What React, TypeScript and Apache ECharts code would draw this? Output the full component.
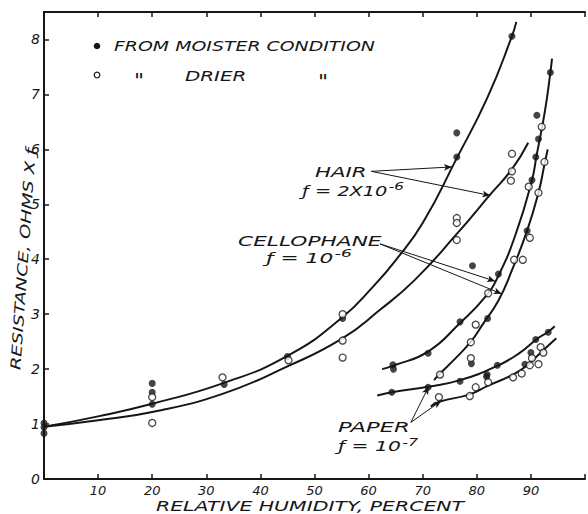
import React, { useEffect, useRef } from "react";
import * as echarts from "echarts";

// ---------- data (relative humidity %, resistance ohms x f) ----------
const xTicks = [10, 20, 30, 40, 50, 60, 70, 80, 90];
const yTicks = [0, 1, 2, 3, 4, 5, 6, 7, 8];

const hairMoisterCurve = [
  [0, 0.95], [10, 1.14], [20, 1.37], [33, 1.74], [45, 2.24], [55, 2.93],
  [61, 3.52], [65, 3.98], [70, 4.66], [76.3, 5.84], [82, 6.95], [86.5, 8.06], [87.3, 8.32],
];
const hairDrierCurve = [
  [0, 0.95], [10, 1.07], [20, 1.22], [33, 1.55], [45, 2.05], [55, 2.55],
  [62, 3.07], [68.5, 3.62], [76.3, 4.46], [82.5, 5.18], [86.5, 5.64], [89.5, 6.12],
];
const cellMoisterCurve = [
  [62.5, 2.0], [64.5, 2.06], [71, 2.32], [76.9, 2.84], [81.6, 3.32], [84, 3.7],
  [87.2, 4.46], [90.2, 5.44], [91, 5.86], [92.6, 6.7], [93.6, 7.4], [93.9, 7.65],
];
const cellDrierCurve = [
  [72.1, 1.8], [73, 1.9], [76, 2.19], [78.9, 2.5], [81, 2.8], [84, 3.25],
  [86.5, 3.8], [89.3, 4.52], [91.4, 5.21], [92.5, 5.72], [93.1, 6.0],
];
const paperMoisterCurve = [
  [61.6, 1.52], [64.3, 1.58], [71, 1.68], [76.9, 1.8], [83.8, 2.06],
  [88, 2.3], [91, 2.54], [93.2, 2.68], [94.4, 2.78],
];
const paperDrierCurve = [
  [71.5, 1.32], [73.2, 1.41], [78.7, 1.54], [82.1, 1.7], [86.7, 1.9],
  [89.5, 2.08], [91.5, 2.27], [94.7, 2.56],
];

const moisterPoints = [
  [0, 1.02], [0, 0.94], [0, 0.83], [20, 1.74], [20, 1.58], [20, 1.36], [33.3, 1.72],
  [45, 2.23], [55.2, 2.92], [76.3, 6.3], [76.3, 5.86], [86.5, 8.06],
  [64.5, 2.08], [64.6, 2.0], [71, 2.29], [76.9, 2.86], [79.2, 3.88], [84, 3.73],
  [82, 2.92], [79, 2.1], [89.3, 4.52], [90.2, 5.44], [90.9, 5.86], [91.4, 6.19],
  [91.1, 6.62], [93.6, 7.4],
  [64.3, 1.58], [71, 1.67], [76.9, 1.78], [81.8, 1.86], [83.8, 2.07], [88.9, 2.09],
  [90, 2.3], [90.9, 2.54], [93.2, 2.67], [81.9, 1.9],
];
const drierPoints = [
  [20, 1.49], [20, 1.02], [33, 1.85], [45.2, 2.16], [55.2, 3.0], [55.2, 2.52], [55.2, 2.21],
  [76.3, 4.75], [76.3, 4.66], [76.3, 4.35], [86.5, 5.92], [86.5, 5.6], [86.3, 5.43],
  [73.2, 1.9], [78.9, 2.49], [78.9, 2.2], [79.8, 2.81], [82.1, 3.38], [86.9, 3.99],
  [88.5, 3.99], [89.8, 4.39], [89.6, 5.32], [91.4, 5.21], [92.5, 5.77], [92, 6.41],
  [73, 1.49], [78.7, 1.51], [79.8, 1.67], [82.1, 1.76], [86.7, 1.85], [88.3, 1.92],
  [89.8, 2.07], [91.4, 2.09], [90.2, 2.2], [91.8, 2.4], [92.3, 2.3],
];

// label pointer lines: [from, to] in data units
const pointers = [
  [[60.5, 5.6], [75.4, 5.68]],
  [[60.5, 5.6], [82.5, 5.16]],
  [[62.1, 4.28], [83.4, 3.6]],
  [[62.1, 4.28], [84.6, 3.37]],
  [[67.8, 1.03], [71.1, 1.68]],
  [[67.8, 1.03], [73.4, 1.42]],
];

const INK = "#161616";
const FONT = '"DejaVu Sans", sans-serif';

function txt(text: string, x: number, y: number, scaleX: number, size = 14, extra: any = {}) {
  const { align, ...rest } = extra;
  return {
    type: "text",
    x,
    y,
    scaleX,
    silent: true,
    ...rest,
    style: {
      text,
      fill: INK,
      fontSize: size,
      fontFamily: FONT,
      fontStyle: "italic",
      textAlign: align || "left",
      textVerticalAlign: "middle",
      rich: {
        s: { fontSize: 11, fontFamily: FONT, fontStyle: "italic", fill: INK, padding: [0, 0, 9, 1] },
      },
    },
  };
}

export default function App() {
  const ref = useRef<HTMLDivElement>(null);
  useEffect(() => {
    if (!ref.current) return;
    const chart = echarts.init(ref.current, null, { renderer: "svg" });
    const curve = (name: string, data: number[][], extra: any = {}) => ({
      name,
      type: "line",
      data,
      smooth: 0.5,
      showSymbol: false,
      silent: true,
      lineStyle: { color: INK, width: 2 },
      z: 2,
      ...extra,
    });
    const axisCommon = {
      type: "value",
      min: 0,
      max: 100,
      interval: 10,
      splitLine: { show: false },
      axisLine: { show: true, onZero: false, lineStyle: { color: INK, width: 2 } },
      axisTick: { show: true, inside: true, length: 5, lineStyle: { color: INK, width: 1.5 } },
    };
    chart.setOption({
      animation: false,
      backgroundColor: "#ffffff",
      grid: { left: 44, top: 12, width: 549, height: 467, containLabel: false },
      xAxis: [
        {
          ...axisCommon,
          position: "bottom",
          axisLabel: {
            margin: 5,
            color: INK,
            fontSize: 13,
            fontFamily: FONT,
            fontStyle: "italic",
            formatter: (v: number) => (xTicks.includes(v) ? String(v) : ""),
          },
        },
        {
          ...axisCommon,
          position: "top",
          axisLabel: { show: false },
        },
      ],
      yAxis: {
        type: "value",
        min: 0,
        max: 8.5,
        interval: 1,
        splitLine: { show: false },
        axisLine: { show: true, onZero: false, lineStyle: { color: INK, width: 2 } },
        axisTick: { show: true, inside: true, length: 5, lineStyle: { color: INK, width: 1.5 } },
        axisLabel: {
          margin: 4,
          color: INK,
          fontSize: 14,
          fontFamily: FONT,
          fontStyle: "italic",
          formatter: (v: number) => (yTicks.includes(v) ? String(v) : ""),
        },
      },
      series: [
        curve("Hair, moister", hairMoisterCurve, {
          markLine: {
            silent: true,
            symbol: ["none", "arrow"],
            symbolSize: [5, 8],
            label: { show: false },
            lineStyle: { color: INK, width: 1, type: "solid" },
            data: pointers.map((p) => [{ coord: p[0] }, { coord: p[1] }]),
          },
        }),
        curve("Hair, drier", hairDrierCurve),
        curve("Cellophane, moister", cellMoisterCurve),
        curve("Cellophane, drier", cellDrierCurve),
        curve("Paper, moister", paperMoisterCurve),
        curve("Paper, drier", paperDrierCurve),
        {
          name: "From moister condition",
          type: "scatter",
          data: moisterPoints,
          symbol: "circle",
          symbolSize: 7,
          silent: true,
          clip: false,
          itemStyle: { color: INK },
          z: 3,
        },
        {
          name: "From drier condition",
          type: "scatter",
          data: drierPoints,
          symbol: "circle",
          symbolSize: 7,
          silent: true,
          clip: false,
          itemStyle: { color: "#ffffff", borderColor: INK, borderWidth: 1.3 },
          z: 3,
        },
      ],
      graphic: [
        { type: "circle", shape: { cx: 97, cy: 46, r: 3.3 }, style: { fill: INK }, silent: true },
        txt("FROM MOISTER CONDITION", 114, 46, 1.35),
        { type: "circle", shape: { cx: 97, cy: 75, r: 2.8 }, style: { fill: "#fff", stroke: INK, lineWidth: 1.2 }, silent: true },
        txt('"', 134, 80, 1.1, 20),
        txt("DRIER", 185, 76, 1.42),
        txt('"', 318, 81, 1.1, 20),
        txt("HAIR", 315, 172, 1.52),
        txt("ƒ = 2X10{s|-6}", 302, 191, 1.38),
        txt("CELLOPHANE", 238, 241, 1.55),
        txt("ƒ = 10{s|-6}", 266, 258, 1.55),
        txt("PAPER", 338, 427, 1.62),
        txt("ƒ = 10{s|-7}", 338, 446, 1.45),
        txt("RELATIVE HUMIDITY, PERCENT", 310, 506, 1.46, 14, { align: "center" }),
        txt("RESISTANCE, OHMS X ƒ", 23, 259, 1.38, 14, { align: "center", rotation: (86 * Math.PI) / 180 }),
      ],
    });
    return () => chart.dispose();
  }, []);
  return <div ref={ref} style={{ width: 588, height: 514, position: "absolute", left: 0, top: 0 }} />;
}
